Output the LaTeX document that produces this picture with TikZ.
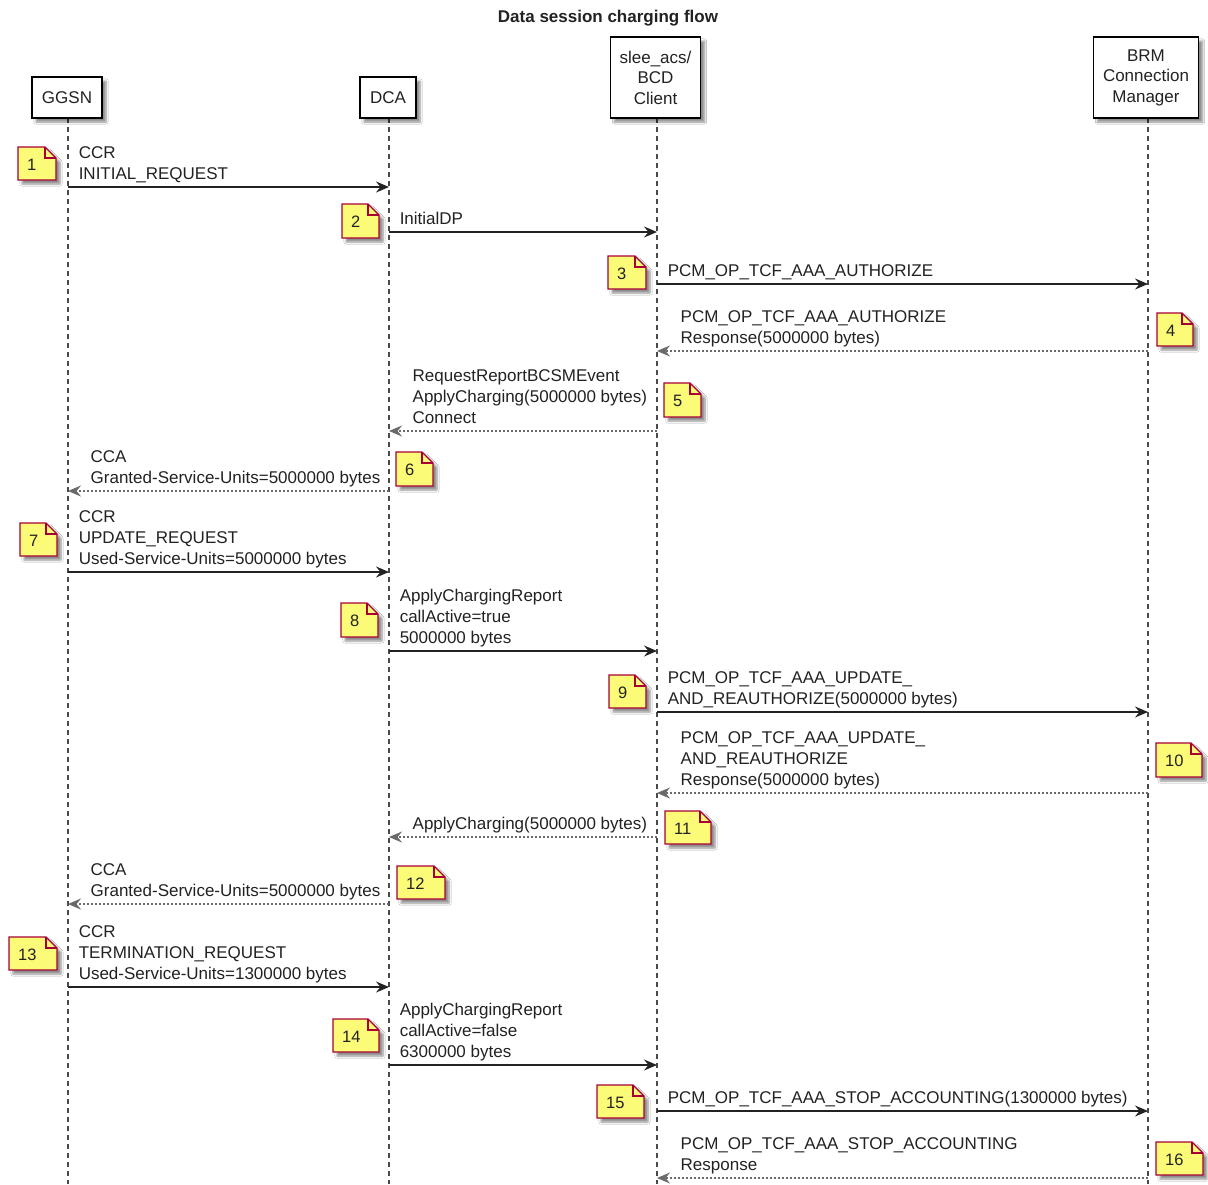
\documentclass[tikz,border=0pt]{standalone}
\usepackage{fontspec}
\setmainfont{Liberation Sans}
\usetikzlibrary{arrows.meta,shadows.blur}

\definecolor{notefill}{HTML}{FBFB77}
\definecolor{noteline}{HTML}{A80036}
\definecolor{lifec}{HTML}{4A4A4A}
\definecolor{msgc}{HTML}{222222}
\definecolor{retc}{HTML}{6A6A6A}
\definecolor{txtc}{HTML}{222222}

\tikzset{
  lifeline/.style={draw=lifec, line width=1.5pt, dash pattern=on 5pt off 4pt},
  tip/.style={-{Stealth[length=13pt,width=11pt,inset=4.5pt]}},
  msg/.style={draw=msgc, line width=1.5pt, tip},
  ret/.style={draw=retc, line width=1.4pt, dash pattern=on 2pt off 2pt, tip},
  lbl/.style={inner sep=0pt, align=left, text=txtc, font=\fontsize{17}{21}\selectfont, execute at end node=\strut},
  lblr/.style={lbl, pos=0, anchor=south west, xshift=10pt, yshift=0.5pt},
  lbll/.style={lbl, pos=1, anchor=south west, xshift=23pt, yshift=0.5pt},
  part/.style={draw=black, line width=1.5pt, fill=white, inner sep=0pt, align=center,
    text=txtc, font=\fontsize{17}{20.5}\selectfont,
    blur shadow={shadow xshift=4pt, shadow yshift=-4pt, shadow blur steps=6, shadow opacity=45}},
  notebody/.style={draw=noteline, line width=1.3pt, fill=notefill,
    blur shadow={shadow xshift=4pt, shadow yshift=-4pt, shadow blur steps=6, shadow opacity=45}},
  notenum/.style={inner sep=0pt, anchor=west, text=txtc, font=\fontsize{16.5}{19}\selectfont},
}

% note with a folded corner: name, x1, y1, x2, y2, text
\newcommand{\seqnote}[6]{%
  \path[notebody] (#2,#3) -- ({#4-11},#3) -- (#4,{#3+11}) -- (#4,#5) -- (#2,#5) -- cycle;
  \draw[noteline, line width=1.3pt] ({#4-11},#3) -- ({#4-11},{#3+11}) -- (#4,{#3+11});
  \node[notenum] (#1) at ({#2+9},{(#3+#5)/2+1}) {#6};
}

\def\xG{68}
\def\xD{389}
\def\xC{657}
\def\xB{1148}

\begin{document}
\begin{tikzpicture}[x=1pt, y=-1pt]
\useasboundingbox[fill=white] (0,0) rectangle (1208,1184);

\node[font=\bfseries\fontsize{17}{20}\selectfont, text=txtc] (title) at (608,18) {Data session charging flow};

% lifelines
\coordinate (gEnd) at (\xG,1184);
\coordinate (dEnd) at (\xD,1184);
\coordinate (cEnd) at (\xC,1184);
\coordinate (bEnd) at (\xB,1184);
\coordinate (gTop) at (\xG,118);
\coordinate (dTop) at (\xD,118);
\coordinate (cTop) at (\xC,118);
\coordinate (bTop) at (\xB,118);
\draw[lifeline] (gTop) -- (gEnd);
\draw[lifeline] (dTop) -- (dEnd);
\draw[lifeline] (cTop) -- (cEnd);
\draw[lifeline] (bTop) -- (bEnd);

% participants
\node[part, minimum width=70pt, minimum height=41pt] (ggsn) at (67,97.5) {GGSN};
\node[part, minimum width=56pt, minimum height=41pt] (dca) at (388,97.5) {DCA};
\node[part, minimum width=90pt, minimum height=81pt] (client) at (655.5,77.5) {slee\_acs/\\BCD\\Client};
\node[part, minimum width=105pt, minimum height=81pt] (brm) at (1146,77.5) {BRM\\Connection\\Manager};

% message end points on the lifelines
\foreach \n/\y in {1/187,6/491,7/572,12/904,13/987} {
  \coordinate (g\n) at (\xG,\y); \coordinate (d\n) at (\xD,\y);
}
\foreach \n/\y in {2/232,5/431,8/651,11/837,14/1065} {
  \coordinate (d\n) at (\xD,\y); \coordinate (c\n) at (\xC,\y);
}
\foreach \n/\y in {3/284,4/351,9/712,10/793,15/1111,16/1178} {
  \coordinate (c\n) at (\xC,\y); \coordinate (b\n) at (\xB,\y);
}

% messages
\draw[msg] (g1) -- (d1) node[lblr] (l1) {CCR\\INITIAL\_REQUEST};
\draw[msg] (d2) -- (c2) node[lblr] (l2) {InitialDP};
\draw[msg] (c3) -- (b3) node[lblr] (l3) {PCM\_OP\_TCF\_AAA\_AUTHORIZE};
\draw[ret] (b4) -- (c4) node[lbll] (l4) {PCM\_OP\_TCF\_AAA\_AUTHORIZE\\Response(5000000 bytes)};
\draw[ret] (c5) -- (d5) node[lbll] (l5) {RequestReportBCSMEvent\\ApplyCharging(5000000 bytes)\\Connect};
\draw[ret] (d6) -- (g6) node[lbll, xshift=-1pt] (l6) {CCA\\Granted-Service-Units=5000000 bytes};
\draw[msg] (g7) -- (d7) node[lblr] (l7) {CCR\\UPDATE\_REQUEST\\Used-Service-Units=5000000 bytes};
\draw[msg] (d8) -- (c8) node[lblr] (l8) {ApplyChargingReport\\callActive=true\\5000000 bytes};
\draw[msg] (c9) -- (b9) node[lblr] (l9) {PCM\_OP\_TCF\_AAA\_UPDATE\_\\AND\_REAUTHORIZE(5000000 bytes)};
\draw[ret] (b10) -- (c10) node[lbll] (l10) {PCM\_OP\_TCF\_AAA\_UPDATE\_\\AND\_REAUTHORIZE\\Response(5000000 bytes)};
\draw[ret] (c11) -- (d11) node[lbll] (l11) {ApplyCharging(5000000 bytes)};
\draw[ret] (d12) -- (g12) node[lbll, xshift=-1pt] (l12) {CCA\\Granted-Service-Units=5000000 bytes};
\draw[msg] (g13) -- (d13) node[lblr] (l13) {CCR\\TERMINATION\_REQUEST\\Used-Service-Units=1300000 bytes};
\draw[msg] (d14) -- (c14) node[lblr] (l14) {ApplyChargingReport\\callActive=false\\6300000 bytes};
\draw[msg] (c15) -- (b15) node[lblr] (l15) {PCM\_OP\_TCF\_AAA\_STOP\_ACCOUNTING(1300000 bytes)};
\draw[ret] (b16) -- (c16) node[lbll] (l16) {PCM\_OP\_TCF\_AAA\_STOP\_ACCOUNTING\\Response};

% numbered notes
\seqnote{n1}{18}{147}{56}{180}{1}
\seqnote{n2}{342}{204}{379}{238}{2}
\seqnote{n3}{608}{256}{646}{289}{3}
\seqnote{n4}{1157}{313}{1193}{346}{4}
\seqnote{n5}{664}{383}{701}{417}{5}
\seqnote{n6}{396}{452}{433}{486}{6}
\seqnote{n7}{20}{523}{57}{556}{7}
\seqnote{n8}{341}{603}{378}{637}{8}
\seqnote{n9}{609}{675}{646}{708}{9}
\seqnote{n10}{1156}{743}{1202}{777}{10}
\seqnote{n11}{665}{811}{711}{844}{11}
\seqnote{n12}{397}{866}{445}{899}{12}
\seqnote{n13}{9}{937}{57}{970}{13}
\seqnote{n14}{333}{1019}{379}{1052}{14}
\seqnote{n15}{597}{1085}{644}{1118}{15}
\seqnote{n16}{1156}{1142}{1203}{1175}{16}

\end{tikzpicture}
\end{document}
